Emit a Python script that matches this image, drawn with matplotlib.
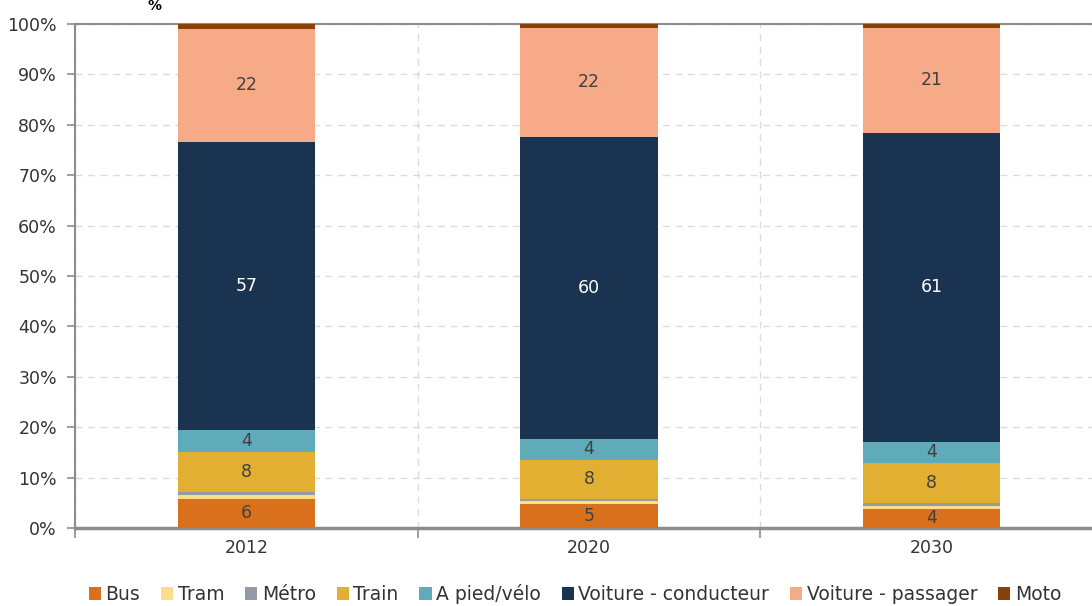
import matplotlib.pyplot as plt
import numpy as np

years = ["2012", "2020", "2030"]
modes = ["Bus", "Tram", "Métro", "Train", "A pied/vélo",
         "Voiture - conducteur", "Voiture - passager", "Moto"]

# part modale (%) par année
bus = [5.8, 4.8, 3.8]
tram = [0.8, 0.6, 0.6]
metro = [0.5, 0.4, 0.6]
train = [7.9, 7.7, 7.9]
pied_velo = [4.4, 4.2, 4.2]
conducteur = [57.2, 59.9, 61.3]
passager = [22.5, 21.6, 20.8]
moto = [0.9, 0.8, 0.8]

series = [bus, tram, metro, train, pied_velo, conducteur, passager, moto]
colors = ["#D9711C", "#FDDC8A", "#959BA5", "#E2AF32", "#5FABB9",
          "#1A3350", "#F6AA88", "#8B4005"]
# séries étiquetées et couleur du texte
labelled = {0: "#404040", 3: "#404040", 4: "#404040", 5: "white", 6: "#404040"}

plt.rcParams["font.family"] = "DejaVu Sans"

fig = plt.figure(figsize=(10.92, 6.06), dpi=100)
ax = fig.add_axes([75 / 1092, 1 - 528 / 606, 1028 / 1092, 504 / 606])

x = np.arange(len(years))
bottom = np.zeros(len(years))
handles = []
for i, (vals, col) in enumerate(zip(series, colors)):
    vals = np.array(vals)
    bars = ax.bar(x, vals, 0.4, bottom=bottom, color=col, zorder=3, label=modes[i])
    handles.append(bars)
    if i in labelled:
        ax.bar_label(bars, labels=[f"{v:.0f}" for v in vals], label_type="center",
                     color=labelled[i], fontsize=12.5, zorder=4)
    bottom += vals

ax.set_xlim(-0.5, 2.5)
ax.set_ylim(0, 100)
ax.set_yticks(np.arange(0, 101, 10))
ax.set_yticklabels([f"{v}%" for v in range(0, 101, 10)], fontsize=12.5, color="#333333")
ax.set_xticks(x)
ax.set_xticklabels(years, fontsize=12.5, color="#333333")
ax.set_xticks([-0.5, 0.5, 1.5], minor=True)
ax.tick_params(axis="x", which="major", length=0, pad=8)
ax.tick_params(axis="x", which="minor", length=7, width=1.2, color="#8C8C8C", direction="out")
ax.tick_params(axis="y", length=6, width=1.2, color="#8C8C8C", pad=7)

ax.yaxis.grid(True, color="#DCDCDC", linestyle=(0, (5, 4)), linewidth=1, zorder=0)
ax.xaxis.grid(True, which="minor", color="#DCDCDC", linestyle=(0, (5, 4)), linewidth=1, zorder=0)

for s in ["left", "bottom", "top"]:
    ax.spines[s].set_color("#8C8C8C")
    ax.spines[s].set_linewidth(1.5)
ax.spines["right"].set_visible(False)
ax.spines["bottom"].set_linewidth(2.5)

fig.text(155 / 1092, 1 - 6 / 606, "%", fontsize=10, fontweight="bold", ha="center", va="center")

fig.legend(handles=handles, labels=modes, loc="center", bbox_to_anchor=(575 / 1092, 1 - 594 / 606),
           ncol=8, frameon=False, fontsize=13.5, handlelength=0.65, handleheight=0.65,
           handletextpad=0.25, columnspacing=1.1, labelcolor="#333333")

fig.savefig("out.png", dpi=100)
